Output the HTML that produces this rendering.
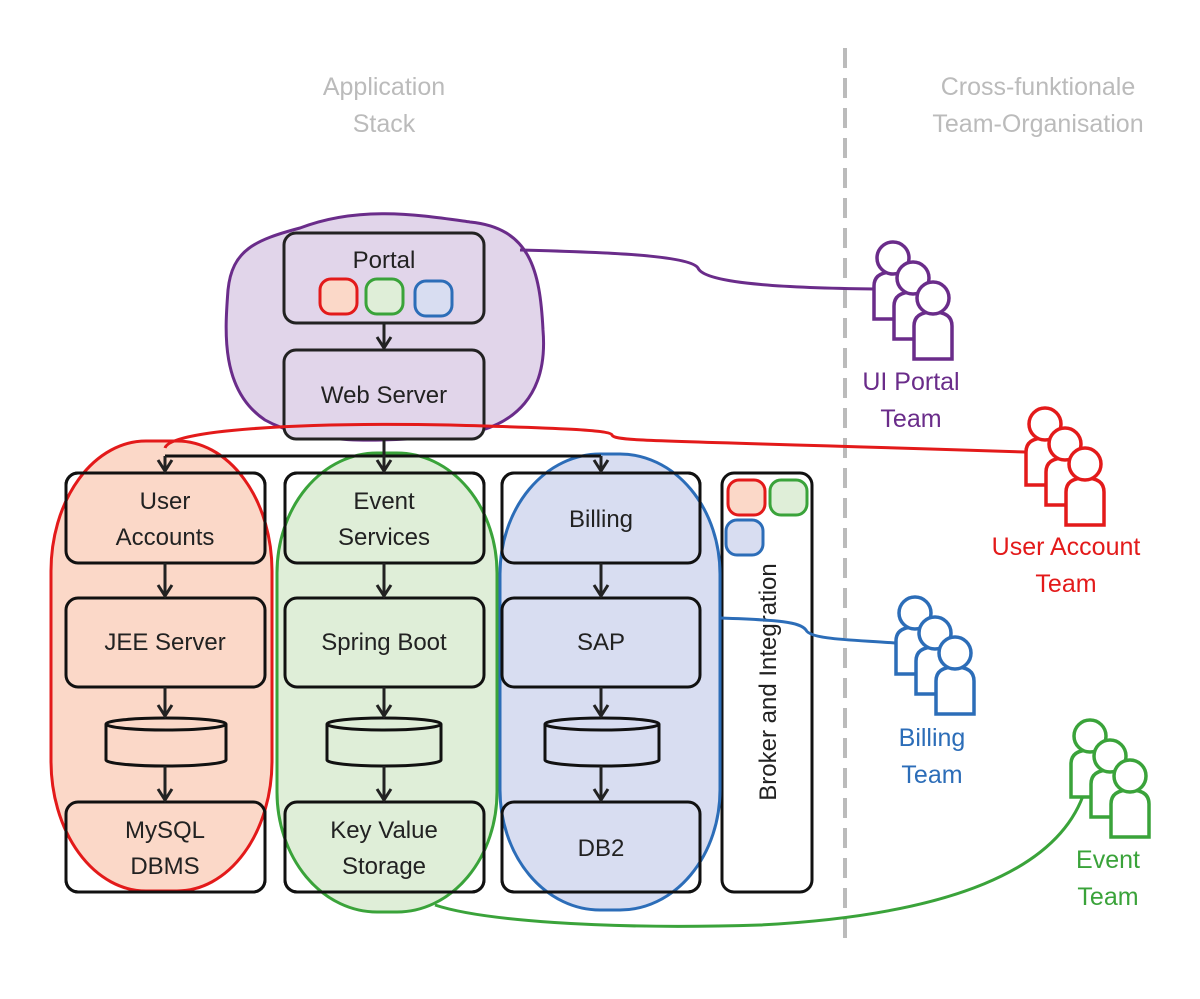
<!DOCTYPE html>
<html><head><style>
body{margin:0;background:#fff}
svg text{font-family:"Liberation Sans",sans-serif}
</style></head><body>
<svg width="1200" height="994" viewBox="0 0 1200 994" xmlns="http://www.w3.org/2000/svg">
<defs>
<g id="p">
<path d="M-19 61 V28 Q-19 14 0 14 Q19 14 19 28 V61 Z" fill="#fff" stroke-width="3.5"/>
<circle cx="0" cy="0" r="16" fill="#fff" stroke-width="3.5"/>
</g>
<path id="ah" d="M-7 -11 L0 0 L7 -11" fill="none" stroke="#222" stroke-width="3"/>
</defs>
<g font-size="25" fill="#bbb" text-anchor="middle">
<text x="384" y="95">Application</text><text x="384" y="132">Stack</text>
<text x="1038" y="95">Cross-funktionale</text><text x="1038" y="132">Team-Organisation</text>
</g>
<line x1="845" y1="48" x2="845" y2="945" stroke="#bbb" stroke-width="4" stroke-dasharray="20,10"/>

<path d="M300 228 C360 205 420 215 470 222 C530 228 540 270 543 330 C548 390 520 430 450 436 C380 442 310 445 265 420 C220 390 225 330 228 290 C232 250 255 240 300 228 Z" fill="#e1d5ea" stroke="#6a2c8a" stroke-width="3"/>
<g fill="none" stroke="#222" stroke-width="3">
<rect x="284" y="233" width="200" height="90" rx="12" fill="#e1d5ea"/>
<rect x="284" y="350" width="200" height="89" rx="12" fill="#e1d5ea"/>
</g>
<rect x="320" y="279" width="37" height="35" rx="11" fill="#fbd8c8" stroke="#e31a1a" stroke-width="3"/>
<rect x="366" y="279" width="37" height="35" rx="11" fill="#dfeed8" stroke="#3aa33a" stroke-width="3"/>
<rect x="415" y="281" width="37" height="35" rx="11" fill="#d8ddf1" stroke="#2c6db8" stroke-width="3"/>

<g fill="#fff" stroke="#111" stroke-width="3">
<rect x="66" y="473" width="199" height="419" rx="12"/>
<rect x="285" y="473" width="199" height="419" rx="12"/>
<rect x="502" y="473" width="198" height="419" rx="12"/>
<rect x="722" y="473" width="90" height="419" rx="12"/>
</g>
<rect x="51" y="441" width="221" height="450" rx="95" ry="130" fill="#fbd8c8" stroke="#e31a1a" stroke-width="3"/>
<rect x="277" y="453" width="220" height="459" rx="100" ry="120" fill="#dfeed8" stroke="#3aa33a" stroke-width="3"/>
<rect x="500" y="454" width="220" height="456" rx="100" ry="120" fill="#d8ddf1" stroke="#2c6db8" stroke-width="3"/>

<g fill="none" stroke="#111" stroke-width="3">
<rect x="66" y="473" width="199" height="90" rx="12"/>
<rect x="285" y="473" width="199" height="90" rx="12"/>
<rect x="502" y="473" width="198" height="90" rx="12"/>
<rect x="66" y="598" width="199" height="89" rx="12"/>
<rect x="285" y="598" width="199" height="89" rx="12"/>
<rect x="502" y="598" width="198" height="89" rx="12"/>
<rect x="66" y="802" width="199" height="90" rx="12"/>
<rect x="285" y="802" width="199" height="90" rx="12"/>
<rect x="502" y="802" width="198" height="90" rx="12"/>
<path d="M106 724 A60 6 0 0 1 226 724 V760 A60 6 0 0 1 106 760 Z M106 724 A60 6 0 0 0 226 724"/>
<path d="M327 724 A57 6 0 0 1 441 724 V760 A57 6 0 0 1 327 760 Z M327 724 A57 6 0 0 0 441 724"/>
<path d="M545 724 A57 6 0 0 1 659 724 V760 A57 6 0 0 1 545 760 Z M545 724 A57 6 0 0 0 659 724"/>
<path d="M165 456 H601"/>
</g>
<g stroke="#222" stroke-width="3">
<line x1="384" y1="323" x2="384" y2="347"/>
<line x1="384" y1="439" x2="384" y2="470"/>
<line x1="165" y1="456" x2="165" y2="470"/>
<line x1="601" y1="456" x2="601" y2="470"/>
<line x1="165" y1="563" x2="165" y2="595"/>
<line x1="384" y1="563" x2="384" y2="595"/>
<line x1="601" y1="563" x2="601" y2="595"/>
<line x1="165" y1="687" x2="165" y2="715"/>
<line x1="384" y1="687" x2="384" y2="715"/>
<line x1="601" y1="687" x2="601" y2="715"/>
<line x1="165" y1="766" x2="165" y2="799"/>
<line x1="384" y1="766" x2="384" y2="799"/>
<line x1="601" y1="766" x2="601" y2="799"/>
</g>
<use href="#ah" x="384" y="348"/><use href="#ah" x="384" y="471"/><use href="#ah" x="165" y="471"/><use href="#ah" x="601" y="471"/>
<use href="#ah" x="165" y="596"/><use href="#ah" x="384" y="596"/><use href="#ah" x="601" y="596"/>
<use href="#ah" x="165" y="716"/><use href="#ah" x="384" y="716"/><use href="#ah" x="601" y="716"/>
<use href="#ah" x="165" y="800"/><use href="#ah" x="384" y="800"/><use href="#ah" x="601" y="800"/>

<rect x="728" y="480" width="37" height="35" rx="11" fill="#fbd8c8" stroke="#e31a1a" stroke-width="3"/>
<rect x="770" y="480" width="37" height="35" rx="11" fill="#dfeed8" stroke="#3aa33a" stroke-width="3"/>
<rect x="726" y="520" width="37" height="35" rx="11" fill="#d8ddf1" stroke="#2c6db8" stroke-width="3"/>

<g font-size="24" fill="#222" text-anchor="middle">
<text x="384" y="268">Portal</text>
<text x="384" y="403">Web Server</text>
<text x="165" y="509">User</text><text x="165" y="545">Accounts</text>
<text x="384" y="509">Event</text><text x="384" y="545">Services</text>
<text x="601" y="527">Billing</text>
<text x="165" y="650">JEE Server</text>
<text x="384" y="650">Spring Boot</text>
<text x="601" y="650">SAP</text>
<text x="165" y="838">MySQL</text><text x="165" y="874">DBMS</text>
<text x="384" y="838">Key Value</text><text x="384" y="874">Storage</text>
<text x="601" y="856">DB2</text>
<text transform="translate(776,682) rotate(-90)">Broker and Integration</text>
</g>

<g fill="none" stroke-width="3">
<path d="M520 250 C600 252 690 255 698 268 C705 285 800 288 875 289" stroke="#6a2c8a"/>
<path d="M165 448 C170 430 300 422 450 425 C560 428 610 430 612 435 C615 442 660 440 1025 452" stroke="#e31a1a"/>
<path d="M720 618 C780 620 800 622 806 630 C810 640 860 640 895 643" stroke="#2c6db8"/>
<path d="M435 905 C480 920 600 930 760 925 C950 915 1060 870 1085 790" stroke="#3aa33a"/>
</g>

<g stroke="#6a2c8a"><use href="#p" x="893" y="258"/><use href="#p" x="913" y="278"/><use href="#p" x="933" y="298"/></g>
<g stroke="#e31a1a"><use href="#p" x="1045" y="424"/><use href="#p" x="1065" y="444"/><use href="#p" x="1085" y="464"/></g>
<g stroke="#2c6db8"><use href="#p" x="915" y="613"/><use href="#p" x="935" y="633"/><use href="#p" x="955" y="653"/></g>
<g stroke="#3aa33a"><use href="#p" x="1090" y="736"/><use href="#p" x="1110" y="756"/><use href="#p" x="1130" y="776"/></g>

<g font-size="25" text-anchor="middle">
<text x="911" y="390" fill="#6a2c8a">UI Portal</text><text x="911" y="427" fill="#6a2c8a">Team</text>
<text x="1066" y="555" fill="#e31a1a">User Account</text><text x="1066" y="592" fill="#e31a1a">Team</text>
<text x="932" y="746" fill="#2c6db8">Billing</text><text x="932" y="783" fill="#2c6db8">Team</text>
<text x="1108" y="868" fill="#3aa33a">Event</text><text x="1108" y="905" fill="#3aa33a">Team</text>
</g>
</svg>
</body></html>
